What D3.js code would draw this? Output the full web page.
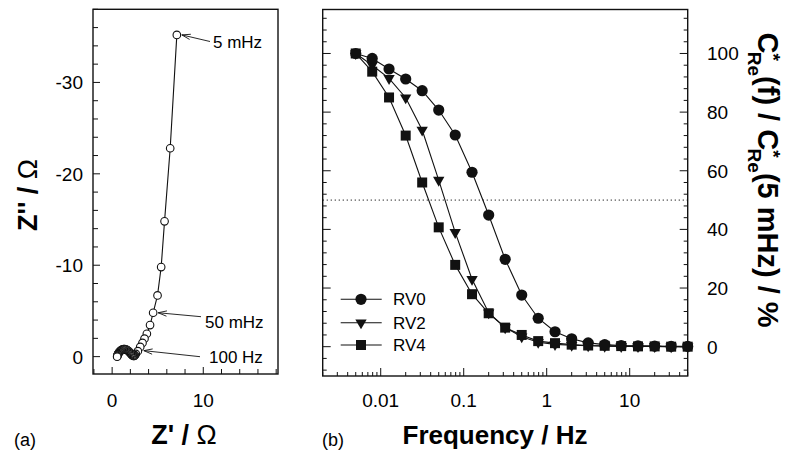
<!DOCTYPE html>
<html><head><meta charset="utf-8">
<script src="https://cdn.jsdelivr.net/npm/d3@7"></script>
<style>
body{margin:0;background:#fff;}
svg{display:block;font-family:"Liberation Sans",Arial,sans-serif;}
</style></head>
<body><svg id="c" width="786" height="451"></svg>
<script>
// ---------- Panel (a): Nyquist plot (from 5 mHz to the high-frequency end) ----------
const zRe = [7.1, 6.37, 5.75, 5.38, 4.98, 4.5, 4.16, 3.81, 3.55, 3.33, 3.08, 2.82, 2.6, 2.5, 2.45,
  2.40, 2.35, 2.30, 2.25, 2.19, 2.12, 2.05, 1.98, 1.90, 1.83, 1.75, 1.68, 1.60, 1.52, 1.44, 1.36,
  1.28, 1.20, 1.12, 1.05, 0.98, 0.92, 0.86, 0.80, 0.75, 0.70, 0.66, 0.63, 0.60, 0.58, 0.56, 0.55];
const zIm = [-35.2, -22.8, -14.8, -9.8, -6.7, -4.8, -3.45, -2.5, -1.97, -1.5, -1.06, -0.6, -0.3, -0.16, -0.1,
  -0.08, -0.08, -0.10, -0.13, -0.18, -0.25, -0.33, -0.42, -0.50, -0.58, -0.64, -0.70, -0.75, -0.78, -0.80, -0.82,
  -0.82, -0.80, -0.78, -0.74, -0.69, -0.64, -0.58, -0.52, -0.45, -0.38, -0.30, -0.24, -0.17, -0.12, -0.06, 0.0];
const zReTicks = [0, 10];
const zImTicks = [0, -10, -20, -30];
const annLabels = ["5 mHz", "50 mHz", "100 Hz"];
const annIndex = [0, 5, 11];

// ---------- Panel (b): normalized capacitance ----------
const freq = [0.005, 0.0079, 0.0126, 0.02, 0.0316, 0.05, 0.079, 0.126, 0.2, 0.316, 0.5, 0.79, 1.26, 2, 3.16, 5, 7.9, 12.6, 20, 31.6, 50];
const rv0 = [100, 98.3, 94.7, 91.3, 87.3, 80.7, 72.2, 59.5, 44.9, 29.8, 17.6, 9.7, 5.1, 2.7, 1.3, 0.7, 0.4, 0.3, 0.2, 0.1, 0.1];
const rv2 = [100, 96, 91.5, 84.9, 73.9, 56.8, 39, 23, 11.6, 6.5, 3.4, 1.5, 0.8, 0.5, 0.3, 0.2, 0.1, 0.1, 0.1, 0, 0];
const rv4 = [100, 93.8, 85, 72, 56, 40.7, 27.9, 17.9, 11.4, 6.5, 4, 1.9, 1.2, 0.7, 0.4, 0.3, 0.2, 0.1, 0.1, 0, 0];
const seriesNames = ["RV0", "RV2", "RV4"];
const freqTicks = [0.01, 0.1, 1, 10];
const pctTicks = [0, 20, 40, 60, 80, 100];
const halfLevel = 50;

const svg = d3.select("#c");
const INK = "#111";

// ===== Panel (a) =====
const xA = d3.scaleLinear().domain([-2.1, 18.2]).range([93, 278]);
const yA = d3.scaleLinear().domain([1.9, -38]).range([374, 9.3]);
const gA = svg.append("g");
const xAminor = d3.range(-2, 18.01, 2);
gA.selectAll(".xat").data(xAminor).join("line")
  .attr("x1", d => xA(d)).attr("x2", d => xA(d))
  .attr("y1", 374).attr("y2", d => 374 - (d % 10 === 0 ? 7 : 5))
  .attr("stroke", INK).attr("stroke-width", 1);
const yAminor = d3.range(0, -38.01, -2);
gA.selectAll(".yat").data(yAminor).join("line")
  .attr("y1", d => yA(d)).attr("y2", d => yA(d))
  .attr("x1", 93).attr("x2", d => 93 + (d % 10 === 0 ? 7 : 5))
  .attr("stroke", INK).attr("stroke-width", 1);
gA.append("rect").attr("x", 93).attr("y", 9.3).attr("width", 278 - 93).attr("height", 374 - 9.3)
  .attr("fill", "none").attr("stroke", INK).attr("stroke-width", 1.4);
gA.selectAll(".xal").data(zReTicks).join("text")
  .attr("x", d => xA(d)).attr("y", 407).attr("text-anchor", "middle")
  .attr("font-size", 19).text(d => d);
gA.selectAll(".yal").data(zImTicks).join("text")
  .attr("x", 83).attr("y", d => yA(d) + 7).attr("text-anchor", "end")
  .attr("font-size", 19).text(d => d === 0 ? "0" : "-" + Math.abs(d));
const lineA = d3.line().x((d, i) => xA(zRe[i])).y((d, i) => yA(zIm[i]));
gA.append("path").attr("d", lineA(zRe)).attr("fill", "none").attr("stroke", INK).attr("stroke-width", 1.1);
gA.selectAll(".pa").data(zRe).join("circle")
  .attr("cx", (d, i) => xA(zRe[i])).attr("cy", (d, i) => yA(zIm[i])).attr("r", 3.8)
  .attr("fill", "#fff").attr("stroke", "#111").attr("stroke-width", 1.1);
const annText = [[213, 48], [205, 328], [209, 363]];
const annFrom = [[210, 41.5], [201, 316.7], [200, 356.7]];
annLabels.forEach((t, k) => {
  const i = annIndex[k];
  const tx = xA(zRe[i]) + (k === 2 ? 6 : 5), ty = yA(zIm[i]) + (k === 2 ? -0.5 : 0);
  const [fx, fy] = annFrom[k];
  const ang = Math.atan2(ty - fy, tx - fx);
  gA.append("line").attr("x1", fx).attr("y1", fy).attr("x2", tx).attr("y2", ty)
    .attr("stroke", INK).attr("stroke-width", 0.9);
  const L = 9, w = 0.3;
  const p = [[tx - L * Math.cos(ang - w), ty - L * Math.sin(ang - w)], [tx, ty], [tx - L * Math.cos(ang + w), ty - L * Math.sin(ang + w)]];
  gA.append("path").attr("d", d3.line()(p)).attr("fill", "none").attr("stroke", INK).attr("stroke-width", 0.9);
  gA.append("text").attr("x", annText[k][0]).attr("y", annText[k][1]).attr("font-size", 17).text(t);
});
const tA = gA.append("text").attr("transform", "translate(37,195) rotate(-90)")
  .attr("text-anchor", "middle").attr("font-size", 27).attr("font-weight", "bold");
tA.append("tspan").text("Z'' / ");
tA.append("tspan").attr("font-weight", "normal").text("Ω");
const tAx = gA.append("text").attr("x", 184).attr("y", 444)
  .attr("text-anchor", "middle").attr("font-size", 27).attr("font-weight", "bold");
tAx.append("tspan").text("Z' / ");
tAx.append("tspan").attr("font-weight", "normal").text("Ω");
gA.append("text").attr("x", 14).attr("y", 446).attr("font-size", 18).text("(a)");

// ===== Panel (b) =====
const L0 = 322.7, R0 = 687.7, T0 = 9.5, B0 = 376;
const xB = d3.scaleLog().domain([0.002, 50]).range([L0, R0]);
const yB = d3.scaleLinear().domain([-10, 115]).range([B0, T0]);
const gB = svg.append("g");
const xMinor = [];
[0.001, 0.01, 0.1, 1, 10].forEach(dec => { for (let m = 1; m <= 9; m++) { const v = dec * m; if (v >= 0.002 && v <= 50) xMinor.push(v); } });
gB.selectAll(".xbt").data(xMinor).join("line")
  .attr("x1", d => xB(d)).attr("x2", d => xB(d))
  .attr("y1", B0).attr("y2", d => B0 - (freqTicks.includes(+d.toPrecision(3)) ? 8 : 4))
  .attr("stroke", INK).attr("stroke-width", 1);
const yMinor = d3.range(-8, 113, 4);
[L0, R0].forEach((x0, side) => {
  gB.selectAll(".ybt" + side).data(yMinor).join("line")
    .attr("y1", d => yB(d)).attr("y2", d => yB(d))
    .attr("x1", x0).attr("x2", d => x0 + (side ? -1 : 1) * (d % 20 === 0 ? 8 : 4))
    .attr("stroke", INK).attr("stroke-width", 1);
});
gB.append("rect").attr("x", L0).attr("y", T0).attr("width", R0 - L0).attr("height", B0 - T0)
  .attr("fill", "none").attr("stroke", INK).attr("stroke-width", 1.4);
gB.selectAll(".xbl").data(freqTicks).join("text")
  .attr("x", d => xB(d)).attr("y", 407).attr("text-anchor", "middle")
  .attr("font-size", 19).text(d => d);
gB.selectAll(".ybl").data(pctTicks).join("text")
  .attr("x", 707).attr("y", d => yB(d) + 7).attr("font-size", 19).text(d => d);
gB.append("line").attr("x1", L0).attr("x2", R0).attr("y1", yB(halfLevel)).attr("y2", yB(halfLevel))
  .attr("stroke", INK).attr("stroke-width", 1).attr("stroke-dasharray", "1.2,2.8");
const seriesVals = [rv0, rv2, rv4];
const tri = d3.symbol().type(d3.symbolTriangle).size(56);
const sq = d3.symbol().type(d3.symbolSquare).size(100);
function marker(g, k, x, y) {
  if (k === 0) g.append("circle").attr("cx", x).attr("cy", y).attr("r", 5.6).attr("fill", INK);
  else if (k === 1) g.append("path").attr("d", tri()).attr("transform", `translate(${x},${y}) rotate(180)`).attr("fill", INK);
  else g.append("path").attr("d", sq()).attr("transform", `translate(${x},${y})`).attr("fill", INK);
}
[2, 1, 0].forEach(k => {
  const ln = d3.line().x((d, i) => xB(freq[i])).y(d => yB(d));
  gB.append("path").attr("d", ln(seriesVals[k])).attr("fill", "none").attr("stroke", INK).attr("stroke-width", 1.1);
});
[2, 1, 0].forEach(k => {
  seriesVals[k].forEach((v, i) => marker(gB, k, xB(freq[i]), yB(v)));
});
const legY = [299.3, 322.7, 345];
seriesNames.forEach((n, k) => {
  gB.append("line").attr("x1", 340.7).attr("x2", 381.7).attr("y1", legY[k]).attr("y2", legY[k])
    .attr("stroke", INK).attr("stroke-width", 1.1);
  marker(gB, k, 361, legY[k]);
  gB.append("text").attr("x", 393).attr("y", legY[k] + 6).attr("font-size", 17).text(n);
});
gB.append("text").attr("x", 495).attr("y", 444).attr("text-anchor", "middle")
  .attr("font-size", 26).attr("font-weight", "bold").text("Frequency / Hz");
gB.append("text").attr("x", 322).attr("y", 446).attr("font-size", 18).text("(b)");
const tB = gB.append("text").attr("transform", "translate(758,180) rotate(90)")
  .attr("text-anchor", "middle").attr("font-size", 29).attr("font-weight", "bold");
tB.append("tspan").text("C");
tB.append("tspan").attr("font-size", 19).attr("dy", -9).text("*");
tB.append("tspan").attr("font-size", 19).attr("dx", -9).attr("dy", 19).text("Re");
tB.append("tspan").attr("dy", -10).text("(f) / C");
tB.append("tspan").attr("font-size", 19).attr("dy", -9).text("*");
tB.append("tspan").attr("font-size", 19).attr("dx", -9).attr("dy", 19).text("Re");
tB.append("tspan").attr("dy", -10).text("(5 mHz) / %");
</script></body></html>
